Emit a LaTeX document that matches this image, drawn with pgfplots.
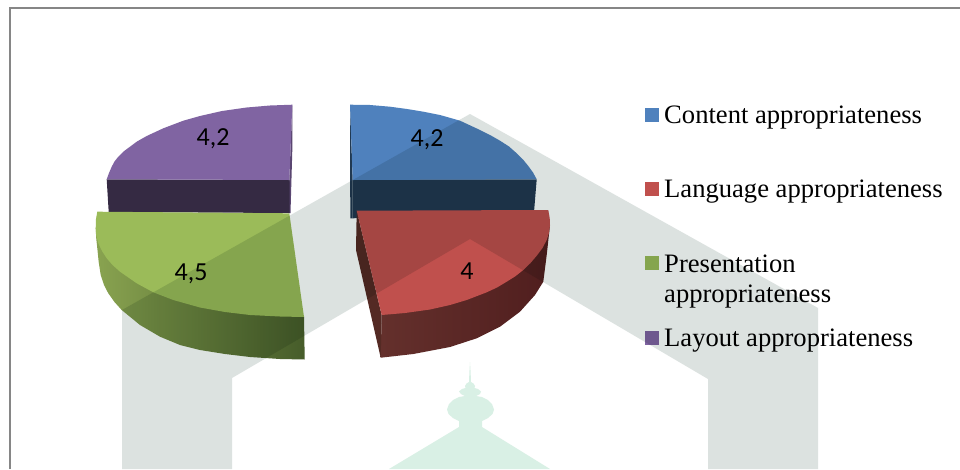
\documentclass[border=0pt]{standalone}
\usepackage{fontspec}
\setmainfont{Liberation Serif}
\newfontfamily\lab{Carlito}
\usepackage{pgfplots}
\pgfplotsset{compat=1.18}
\definecolor{cblue}{HTML}{4F81BD}
\definecolor{cred}{HTML}{C0504D}
\definecolor{cgreen}{HTML}{9BBB59}
\definecolor{cpurple}{HTML}{8064A2}
\begin{document}
\begin{tikzpicture}
\begin{axis}[hide axis, scale only axis, width=960pt, height=469pt,
  xmin=0, xmax=960, ymin=0, ymax=469, y dir=reverse, clip=true,
  every axis plot/.append style={no markers, forget plot, line width=0pt}]
% mosque
\addplot[fill=white, draw=none] coordinates {(0,0)(960,0)(960,469)(0,469)};
\addplot[fill={rgb,255:red,217;green,240;blue,229}, draw=none] coordinates {(470,362)(470.6,372)(471,382)(473.5,383.5)(475,386)(474.5,388)(478,389)(481,391.5)(480,394)(476,396)(482,397)(488,400)(492,404)(494,409.5)(492.5,414)(488,418)(482,421)(482,427)(550,469)(389,469)(459,427)(459,421)(453,418)(448.5,414)(447,409.5)(449,404)(453,400)(459,397)(465,396)(461,394)(459,391.5)(462,389)(465.5,388)(465,386)(466.5,383.5)(469,382)(469.4,372)};
% frame
\addplot[draw={rgb,255:red,134;green,134;blue,134}, line width=2pt] coordinates {(10,469)(10,8)(960,8)};
% purple
\addplot[fill=cpurple!70!black, draw=none] coordinates {(292.3,104.7)(292.3,150)(290.5,213)(288,213)(289.3,180)};
\addplot[fill={rgb,255:red,53;green,42;blue,67}, draw=none] coordinates {(106.7,179.3)(289.5,180)(289.5,213)(108.7,212)};
\addplot[fill=cpurple, draw=none] coordinates {(292.3,104.7)(270,105.5)(246.7,107.5)(222,111)(200,116)(183.3,120.7)(163.3,128.3)(146.7,136)(137,141.5)(130,146.7)(123.5,151.5)(118.3,156.7)(114.5,161.5)(111.7,166.7)(109,173)(106.7,179.3)(289.3,180)};
% blue
\addplot[fill={rgb,255:red,33;green,57;blue,81}, draw=none] coordinates {(350,104.7)(352.7,180)(352.7,218.3)(350.3,218.3)};
\addplot[fill={rgb,255:red,33;green,57;blue,81}, draw=none] coordinates {(352.7,179.6)(536.7,179.3)(534,212)(352.7,218.3)};
\addplot[fill=cblue, draw=none] coordinates {(350,104.7)(370,105)(390,106.7)(407,109)(423.3,111.7)(440,115)(460,120.7)(480,130)(490,135)(500,140.7)(509,146.5)(516.7,153.3)(523,159.5)(528.3,166)(533,172.5)(536.7,179.3)(352.7,180)};
% green
\addplot[left color={rgb,255:red,137;green,163;blue,80}, right color={rgb,255:red,70;green,92;blue,42}, draw=none] coordinates {(95.7,228.3)(96.2,238)(97.3,248.3)(98.7,262)(100.7,275)(104,285)(108.3,293.3)(114.5,302)(121.7,310)(140,325)(160,336.7)(180,345)(200,350)(225,354)(250,357)(280,359)(304.7,359.5)(304,316.7)(200,290)};
\addplot[fill=cgreen, draw=none] coordinates {(97.3,211.7)(289.3,213.3)(304,317)(280,316.5)(250,315)(225,312)(200,307.5)(173.3,300)(153.3,292.3)(136.7,283.3)(120,271.7)(112.5,265)(106.7,258.3)(102,251)(98.3,243.3)(96.3,236)(95.7,228.3)(96,219)};
% red
\addplot[left color={rgb,255:red,100;green,48;blue,44}, middle color={rgb,255:red,78;green,30;blue,29}, right color={rgb,255:red,80;green,30;blue,30}, draw=none] coordinates {(381.7,315)(380.7,357.7)(413.3,354)(450,347)(476.7,338.3)(500,326.7)(520,311.7)(535,295)(543.3,281.7)(546.7,255)(550,225)(500,260)};
\addplot[fill={rgb,255:red,84;green,42;blue,36}, draw=none] coordinates {(356.7,210.7)(381.7,315)(380.7,357.7)(356,250)};
\addplot[fill=cred, draw=none] coordinates {(356.7,210.7)(548.3,210)(549.7,218)(550,225)(549,233)(546.7,240)(542.5,248)(537.3,255)(530.5,263)(523.3,270)(515,276.5)(506.7,281.7)(497,287.5)(486.7,292.3)(466.7,300)(450,305)(430,309.5)(405,313)(381.7,315)};
% legend keys
\addplot[fill=cblue, draw=none] coordinates {(645,108.3)(659,108.3)(659,122.3)(645,122.3)};
\addplot[fill=cred, draw=none] coordinates {(645,182)(659,182)(659,196)(645,196)};
\addplot[fill=cgreen, draw=none] coordinates {(645,256)(659,256)(659,270)(645,270)};
\addplot[fill=cpurple, draw=none] coordinates {(645,331)(659,331)(659,345)(645,345)};
% watermark
\addplot[fill={rgb,255:red,220;green,226;blue,224}, draw=none, blend mode=multiply] coordinates {(470,114)(818,308)(818,469)(708,469)(708,379)(470,239)(232,378)(232,469)(122,469)(122,310)};
% labels
\node[font=\lab\fontsize{26}{30}\selectfont] at (axis cs:213,139) {4,2};
\node[font=\lab\fontsize{26}{30}\selectfont] at (axis cs:191,274) {4,5};
\node[font=\lab\fontsize{26}{30}\selectfont] at (axis cs:427,140) {4,2};
\node[font=\lab\fontsize{26}{30}\selectfont] at (axis cs:467,271) {4};
\foreach \t/\y in {Content appropriateness/123.7, Language appropriateness/197.7, Presentation/272, appropriateness/302.7, Layout appropriateness/346.7}{
  \edef\tmp{\noexpand\node[anchor=base west, inner sep=0pt, font=\noexpand\fontsize{26.6}{30}\noexpand\selectfont] at (axis cs:664,\y) {\t};}\tmp
}
\end{axis}
\end{tikzpicture}
\end{document}
